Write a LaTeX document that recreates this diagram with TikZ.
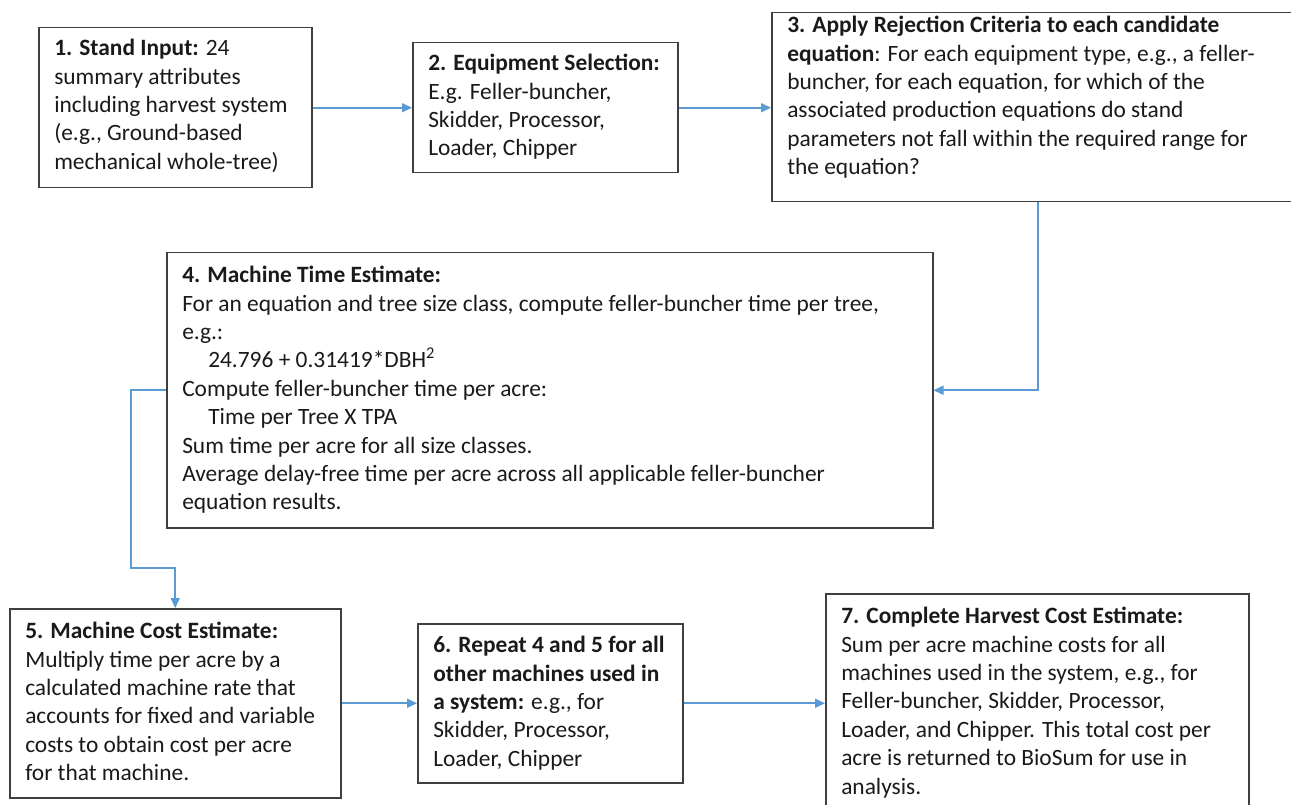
\documentclass[tikz,border=0pt]{standalone}
\usepackage{fontspec}
\setmainfont{Carlito}
\usetikzlibrary{arrows.meta,calc}
\definecolor{boxc}{HTML}{3F3F3F}
\definecolor{connc}{HTML}{5B9BD5}
\definecolor{txtc}{HTML}{1A1A1A}
\newcommand{\bxt}[4]{\parbox[c][#2][t]{#1}{\raggedright\rule{0pt}{#3}#4}}
\tikzset{
  box/.style={draw=boxc, line width=1.5pt, fill=white, inner xsep=15.5pt, inner ysep=0pt,
    anchor=north west, align=left, text=txtc, font=\fontsize{23.4}{28.4}\selectfont},
  conn/.style={draw=connc, line width=1.6pt, -{Triangle[length=10pt,width=9pt]}}
}
\begin{document}
\begin{tikzpicture}[x=1pt,y=-1pt]
\useasboundingbox (0,0) rectangle (1291,805);
\clip (0,0) rectangle (1291,805);
\fill[white] (0,0) rectangle (1291,805);

\node[box] (b1) at (38,27) {\bxt{242pt}{160pt}{28pt}{%
\textbf{1. Stand Input:} 24\\
summary attributes\\
including harvest system\\
(e.g., Ground-based\\
mechanical whole-tree)}};

\node[box] (b2) at (412,42) {\bxt{234pt}{130pt}{28pt}{%
\textbf{2. Equipment Selection:}\\
E.g. Feller-buncher,\\
Skidder, Processor,\\
Loader, Chipper}};

\node[box] (b3) at (771,12) {\bxt{501pt}{189pt}{20pt}{%
\textbf{3. Apply Rejection Criteria to each candidate}\\
\textbf{equation}: For each equipment type, e.g., a feller-\\
buncher, for each equation, for which of the\\
associated production equations do stand\\
parameters not fall within the required range for\\
the equation?}};

\node[box] (b4) at (166,252) {\bxt{735pt}{275pt}{30pt}{%
\textbf{4. Machine Time Estimate:}\\
For an equation and tree size class, compute feller-buncher time per tree,\\
e.g.:\\
\hspace*{26pt}24.796 + 0.31419*DBH\textsuperscript{2}\\
Compute feller-buncher time per acre:\\
\hspace*{26pt}Time per Tree X TPA\\
Sum time per acre for all size classes.\\
Average delay-free time per acre across all applicable feller-buncher\\
equation results.}};

\node[box] (b5) at (9,608) {\bxt{300pt}{189pt}{30pt}{%
\textbf{5. Machine Cost Estimate:}\\
Multiply time per acre by a\\
calculated machine rate that\\
accounts for fixed and variable\\
costs to obtain cost per acre\\
for that machine.}};

\node[box] (b6) at (417,623) {\bxt{234pt}{159pt}{29pt}{%
\textbf{6. Repeat 4 and 5 for all}\\
\textbf{other machines used in}\\
\textbf{a system:} e.g., for\\
Skidder, Processor,\\
Loader, Chipper}};

\node[box] (b7) at (825,593) {\bxt{392pt}{220pt}{30pt}{%
\textbf{7. Complete Harvest Cost Estimate:}\\
Sum per acre machine costs for all\\
machines used in the system, e.g., for\\
Feller-buncher, Skidder, Processor,\\
Loader, and Chipper. This total cost per\\
acre is returned to BioSum for use in\\
analysis.}};

\draw[conn] (b1.east) -- (b2.west);
\draw[conn] (b2.east) -- (b2.east -| b3.west);
\draw[conn] (b3.south) |- (b4.east);
\draw[conn] (b4.west) -- ++(-35,0) -- ++(0,178) -| (b5.north);
\draw[conn] (b5.east) -- (b6.west);
\draw[conn] (b6.east) -- (b6.east -| b7.west);
\end{tikzpicture}
\end{document}
